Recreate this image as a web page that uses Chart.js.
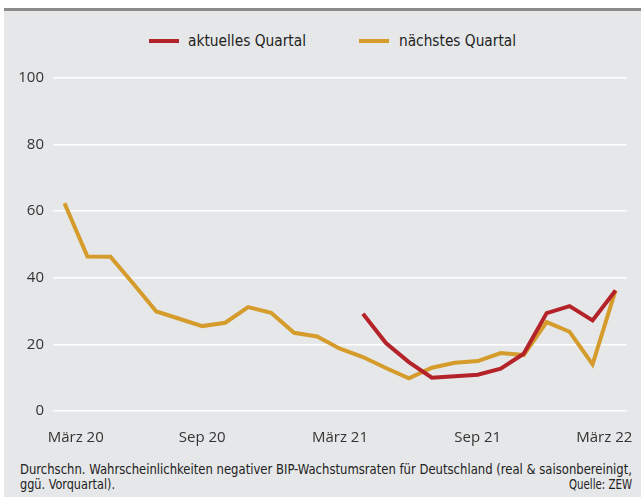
<!DOCTYPE html>
<html lang="de">
<head>
<meta charset="UTF-8">
<title>BIP-Wahrscheinlichkeiten</title>
<script src="https://cdn.jsdelivr.net/npm/chart.js@4"></script>
<style>
    body { margin: 0; background: #fff; width: 641px; height: 500px; overflow: hidden; position: relative; }
    #panel {
        position: absolute; left: 4px; top: 8px; width: 637px; height: 486px;
        background: #e6e7e9; border-top: 3px solid #8b8b8b;
    }
    #chartBox { position: absolute; left: 4px; top: 60px; width: 637px; height: 390px; }
    .leg { position: absolute; top: 32px; font-family: "Liberation Sans Narrow", "DejaVu Sans Condensed", "Open Sans", sans-serif;
        font-stretch: condensed; font-size: 16px; color: #222; white-space: nowrap; line-height: 18px; transform-origin: left center; }
    .sw { position: absolute; top: 39px; width: 30px; height: 4px; }
    .fn { position: absolute; font-family: "Liberation Sans Narrow", "DejaVu Sans Condensed", "Open Sans", sans-serif;
        font-stretch: condensed; font-size: 13.5px; color: #222; white-space: nowrap; line-height: 15px; transform-origin: left center; }
</style>
</head>
<body>
<div id="panel"></div>
<div class="sw" style="left:149px;background:#b5232a"></div>
<div class="leg" id="leg1" style="left:188px">aktuelles Quartal</div>
<div class="sw" style="left:359px;background:#d59c2c"></div>
<div class="leg" id="leg2" style="left:399px">nächstes Quartal</div>
<div id="chartBox"><canvas id="lineChart"></canvas></div>
<div class="fn" id="fn1" style="left:20px;top:462px">Durchschn. Wahrscheinlichkeiten negativer BIP-Wachstumsraten für Deutschland (real &amp; saisonbereinigt,</div>
<div class="fn" id="fn2" style="left:20px;top:477px">ggü. Vorquartal).</div>
<div class="fn" id="fn3" style="left:560px;top:477px">Quelle: ZEW</div>

<script>
    // monthly survey dates, March 2020 to March 2022
    const months = ['März 20', 'Apr 20', 'Mai 20', 'Jun 20', 'Jul 20', 'Aug 20', 'Sep 20', 'Okt 20', 'Nov 20', 'Dez 20',
        'Jan 21', 'Feb 21', 'März 21', 'Apr 21', 'Mai 21', 'Jun 21', 'Jul 21', 'Aug 21', 'Sep 21', 'Okt 21', 'Nov 21', 'Dez 21',
        'Jan 22', 'Feb 22', 'März 22'];
    const aktuellesQuartal = [null, null, null, null, null, null, null, null, null, null, null, null, null,
        29.2, 20.4, 14.7, 10.0, 10.4, 10.9, 12.7, 17.2, 29.4, 31.5, 27.2, 36.2];
    const naechstesQuartal = [62.4, 46.4, 46.3, 38.2, 29.9, 27.7, 25.5, 26.5, 31.2, 29.5, 23.5, 22.4, 18.7,
        16.2, 12.9, 9.8, 13.0, 14.5, 15.0, 17.4, 16.8, 26.7, 23.8, 14.0, 36.2];
    const seriesNames = ['aktuelles Quartal', 'nächstes Quartal'];

    // fit the condensed texts to the widths in the original
    function fitWidth(id, w) {
        const el = document.getElementById(id);
        const cur = el.getBoundingClientRect().width;
        el.style.transform = 'scaleX(' + (w / cur) + ')';
    }
    fitWidth('leg1', 118);
    fitWidth('leg2', 117);
    fitWidth('fn1', 612);
    fitWidth('fn2', 95);
    const q = document.getElementById('fn3');
    fitWidth('fn3', 63);
    q.style.left = (632 - 63) + 'px';

    // first and last month label are kept inside the plot edges
    const pad = '\u2002\u2002\u2002';

    new Chart(document.getElementById('lineChart').getContext('2d'), {
        type: 'line',
        data: {
            labels: months,
            datasets: [{
                label: seriesNames[0],
                data: aktuellesQuartal,
                borderColor: '#b5232a',
                backgroundColor: '#b5232a',
                borderWidth: 4,
                pointRadius: 0,
                tension: 0
            }, {
                label: seriesNames[1],
                data: naechstesQuartal,
                borderColor: '#d59c2c',
                backgroundColor: '#d59c2c',
                borderWidth: 4,
                pointRadius: 0,
                tension: 0
            }]
        },
        options: {
            responsive: true,
            maintainAspectRatio: false,
            animation: false,
            layout: { padding: { left: 0, right: 0, top: 17, bottom: 0 } },
            plugins: {
                legend: { display: false },
                tooltip: { enabled: false }
            },
            scales: {
                x: {
                    offset: true,
                    grid: { display: false, drawTicks: false },
                    border: { display: false },
                    // fixed plot area: 14px free on the right, labels may overhang
                    afterFit: (s) => { s.height = 39; s.paddingLeft = 0; s.paddingRight = 14; },
                    ticks: {
                        autoSkip: false,
                        maxRotation: 0,
                        padding: 18,
                        color: '#333',
                        font: { family: 'Open Sans', size: 15 },
                        callback: function (v, i) {
                            if (i % 6 !== 0) return '';
                            const t = this.getLabelForValue(v);
                            if (i === 0) return pad + t;
                            if (i === months.length - 1) return t + pad;
                            return t;
                        }
                    }
                },
                y: {
                    min: 0,
                    max: 100,
                    grid: { color: '#ffffff', lineWidth: 1.5, drawTicks: false },
                    border: { display: false },
                    afterFit: (s) => { s.width = 49; },
                    ticks: {
                        stepSize: 20,
                        padding: 9,
                        color: '#333',
                        font: { family: 'Open Sans', size: 15 }
                    }
                }
            }
        }
    });
</script>
</body>
</html>
